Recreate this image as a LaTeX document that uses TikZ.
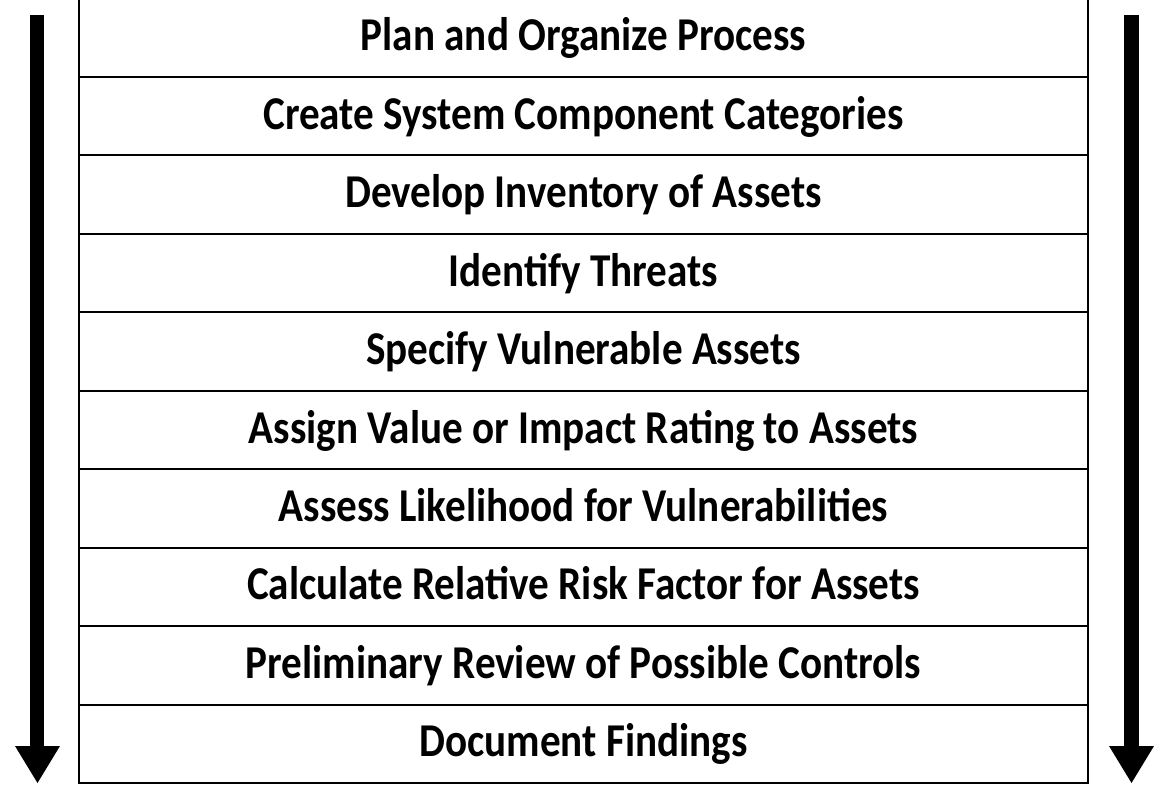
\documentclass[tikz,border=0pt]{standalone}
\usepackage{fontspec}
\setmainfont{Carlito}
\begin{document}
\begin{tikzpicture}[x=1pt,y=-1pt,
  rowbox/.style={draw=black,line width=2pt,minimum width=1009pt,minimum height=78.44pt,inner sep=0pt,
    text height=32pt,text depth=6pt,font=\fontsize{44}{50}\selectfont\bfseries},
  arrowfill/.style={fill=black}]
\useasboundingbox (0,0) rectangle (1169,799);
\foreach \t [count=\i from 0] in {Plan and Organize Process,Create System Component Categories,Develop Inventory of Assets,Identify Threats,Specify Vulnerable Assets,Assign Value or Impact Rating to Assets,Assess Likelihood for Vulnerabilities,Calculate Relative Risk Factor for Assets,Preliminary Review of Possible Controls,Document Findings}{
  \node[rowbox] (r\i) at (583.5,{37.82+78.44*\i}) {\scalebox{0.935}[1.07]{\t}};
}
% left arrow
\fill[arrowfill] (30,15) rectangle (44,750);
\fill[arrowfill] (15,746) -- (60,746) -- (37.5,783) -- cycle;
% right arrow
\fill[arrowfill] (1124,15) rectangle (1139,750);
\fill[arrowfill] (1109,746) -- (1154,746) -- (1131.5,783) -- cycle;
\end{tikzpicture}
\end{document}
